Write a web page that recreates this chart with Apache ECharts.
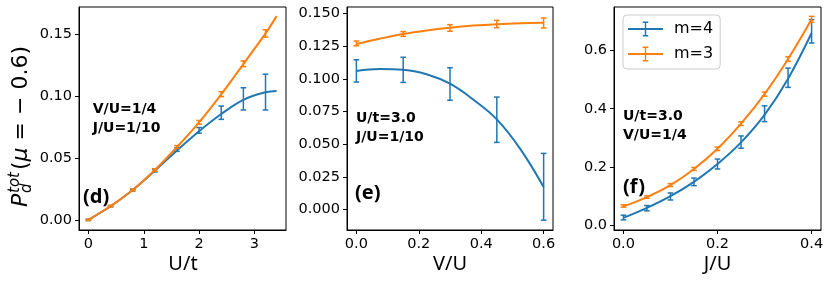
<!DOCTYPE html>
<html>
<head>
<meta charset="utf-8">
<script src="https://cdn.jsdelivr.net/npm/echarts@6/dist/echarts.min.js"></script>
<style>html,body{margin:0;padding:0;background:#fff}#c{width:830px;height:284px}</style>
</head>
<body>
<div id="c"></div>
<script>
// ---- panel (d): vs U/t ----
const dX = [0, 0.4, 0.8, 1.2, 1.6, 2.0, 2.4, 2.8, 3.2];
const dM4 = [0.0, 0.011, 0.024, 0.0398, 0.057, 0.0725, 0.0868, 0.098, 0.1035];
const dM4Err = [0.0005, 0.0005, 0.0007, 0.001, 0.0015, 0.0023, 0.0054, 0.009, 0.0145];
const dM3 = [0.0, 0.0112, 0.0242, 0.0404, 0.059, 0.079, 0.1018, 0.1264, 0.151];
const dM3Err = [0.0005, 0.0006, 0.0008, 0.001, 0.0012, 0.0015, 0.002, 0.0023, 0.003];
const dFitX = [0, 0.4, 0.8, 1.2, 1.6, 2.0, 2.4, 2.8, 3.2, 3.4];
const dFitM4 = [0.0, 0.011, 0.0242, 0.0398, 0.0562, 0.0718, 0.0857, 0.0972, 0.1033, 0.1044];
const dFitM3 = [0.0, 0.0112, 0.0242, 0.0404, 0.059, 0.079, 0.1016, 0.1262, 0.151, 0.165];
const dXTicks = [0, 1, 2, 3];
const dYTicks = [0, 0.05, 0.10, 0.15];

// ---- panel (e): vs V/U ----
const eX = [0, 0.15, 0.3, 0.45, 0.6];
const eM4 = [0.106, 0.1068, 0.096, 0.0687, 0.0175];
const eM4Err = [0.0085, 0.0096, 0.0124, 0.0173, 0.0255];
const eM3 = [0.127, 0.1342, 0.1388, 0.1418, 0.1426];
const eM3Err = [0.0018, 0.0018, 0.0025, 0.0028, 0.0038];
const eFitX = [0, 0.075, 0.15, 0.225, 0.3, 0.375, 0.45, 0.525, 0.6];
const eFitM4 = [0.106, 0.1075, 0.1068, 0.1035, 0.0962, 0.0840, 0.0690, 0.0465, 0.0174];
const eFitM3 = [0.1265, 0.1306, 0.1342, 0.1369, 0.1390, 0.1406, 0.1417, 0.1424, 0.1427];
const eXTicks = [0, 0.2, 0.4, 0.6];
const eYTicks = [0, 0.025, 0.05, 0.075, 0.10, 0.125, 0.15];

// ---- panel (f): vs J/U ----
const fX = [0, 0.05, 0.1, 0.15, 0.2, 0.25, 0.3, 0.35, 0.4];
const fM4 = [0.028, 0.060, 0.100, 0.150, 0.211, 0.286, 0.383, 0.506, 0.665];
const fM4Err = [0.008, 0.009, 0.012, 0.013, 0.017, 0.021, 0.027, 0.033, 0.040];
const fM3 = [0.0675, 0.098, 0.139, 0.194, 0.263, 0.349, 0.450, 0.570, 0.706];
const fM3Err = [0.004, 0.004, 0.005, 0.005, 0.006, 0.006, 0.007, 0.008, 0.010];
const fFitX = [0, 0.05, 0.1, 0.15, 0.2, 0.25, 0.3, 0.35, 0.4];
const fFitM4 = [0.027, 0.061, 0.101, 0.150, 0.211, 0.285, 0.379, 0.503, 0.659];
const fFitM3 = [0.066, 0.098, 0.139, 0.194, 0.263, 0.349, 0.450, 0.570, 0.706];
const fXTicks = [0, 0.2, 0.4];
const fYTicks = [0, 0.2, 0.4, 0.6];

const BLUE = '#1f77b4', ORANGE = '#ff7f0e';
const FONT = 'DejaVu Sans';

function pairs(xs, ys) { return xs.map((x, i) => [x, ys[i]]); }
function triples(xs, ys, es) { return xs.map((x, i) => [x, ys[i], es[i]]); }

function errRender(params, api) {
  const x = api.value(0), y = api.value(1), e = api.value(2);
  const t = api.coord([x, y + e]), b = api.coord([x, y - e]);
  const c = 2.8;
  const style = { stroke: api.visual('color'), lineWidth: 1.5 };
  return { type: 'group', children: [
    { type: 'line', shape: { x1: t[0], y1: t[1], x2: b[0], y2: b[1] }, style },
    { type: 'line', shape: { x1: t[0] - c, y1: t[1], x2: t[0] + c, y2: t[1] }, style },
    { type: 'line', shape: { x1: b[0] - c, y1: b[1], x2: b[0] + c, y2: b[1] }, style }
  ]};
}

const grids = [
  { left: 79, top: 7, width: 207, height: 223 },
  { left: 347, top: 7, width: 206, height: 223 },
  { left: 614, top: 7, width: 207, height: 223 }
].map(g => Object.assign(g, { show: true, borderColor: '#000', borderWidth: 1, backgroundColor: 'transparent' }));

function axis(idx, min, max, ticks, dec) {
  return {
    type: 'value', gridIndex: idx, min, max,
    axisLine: { show: true, onZero: false, lineStyle: { color: '#000', width: 1 } },
    axisTick: { show: true, length: 4, lineStyle: { color: '#000', width: 1 }, customValues: ticks },
    axisLabel: { show: true, margin: 7, color: '#000', fontFamily: FONT, fontSize: 14.5,
      customValues: ticks, formatter: v => Number(v).toFixed(dec) },
    splitLine: { show: false }
  };
}

function panelSeries(idx, xs, m4, m4e, m3, m3e, fx, f4, f3) {
  return [
    { type: 'line', name: 'm=4', xAxisIndex: idx, yAxisIndex: idx, data: pairs(fx, f4), smooth: 0.4,
      showSymbol: false, color: BLUE, lineStyle: { color: BLUE, width: 2 }, silent: true, z: 2 },
    { type: 'custom', name: 'm=4', xAxisIndex: idx, yAxisIndex: idx, data: triples(xs, m4, m4e),
      renderItem: errRender, color: BLUE, encode: { x: 0, y: 1 }, z: 3 },
    { type: 'line', name: 'm=3', xAxisIndex: idx, yAxisIndex: idx, data: pairs(fx, f3), smooth: 0.4,
      showSymbol: false, color: ORANGE, lineStyle: { color: ORANGE, width: 2 }, silent: true, z: 4 },
    { type: 'custom', name: 'm=3', xAxisIndex: idx, yAxisIndex: idx, data: triples(xs, m3, m3e),
      renderItem: errRender, color: ORANGE, encode: { x: 0, y: 1 }, z: 5 }
  ];
}

const ICON = 'path://M0,6.5L35,6.5L35,8.5L0,8.5Z M16.8,0L18.2,0L18.2,15L16.8,15Z M14.7,0L20.3,0L20.3,1.4L14.7,1.4Z M14.7,13.6L20.3,13.6L20.3,15L14.7,15Z';

function txt(x, y, text, font, align) {
  return { type: 'text', x, y, style: { text, font, fill: '#000', align: align || 'left', verticalAlign: 'middle' }, z: 100 };
}
const BOLD = 'bold 14px "DejaVu Sans"';
const LBL = 'bold 20px "Noto Sans"';
const AX = '20px "Noto Sans"';

const option = {
  animation: false,
  textStyle: { fontFamily: FONT },
  grid: grids,
  xAxis: [
    axis(0, -0.17, 3.57, dXTicks, 0),
    axis(1, -0.03, 0.63, eXTicks, 1),
    axis(2, -0.02, 0.42, fXTicks, 1)
  ],
  yAxis: [
    axis(0, -0.0082, 0.1724, dYTicks, 2),
    axis(1, -0.0155, 0.1548, eYTicks, 3),
    axis(2, -0.0147, 0.748, fYTicks, 1)
  ],
  legend: {
    orient: 'vertical', left: 623, top: 15,
    selectedMode: false,
    itemWidth: 35, itemHeight: 15, itemGap: 9,
    padding: [6, 7, 7, 5],
    borderColor: '#cccccc', borderWidth: 1, borderRadius: 4,
    backgroundColor: 'rgba(255,255,255,0.8)',
    textStyle: { fontFamily: FONT, fontSize: 16, color: '#000', padding: [0, 0, 0, 6] },
    data: [
      { name: 'm=4', icon: ICON, itemStyle: { color: BLUE } },
      { name: 'm=3', icon: ICON, itemStyle: { color: ORANGE } }
    ]
  },
  graphic: [
    txt(92.7, 109.5, 'V/U=1/4', BOLD),
    txt(92.7, 128.5, 'J/U=1/10', BOLD),
    txt(356, 118, 'U/t=3.0', BOLD),
    txt(356, 137, 'J/U=1/10', BOLD),
    txt(623, 116.5, 'U/t=3.0', BOLD),
    txt(623, 135.5, 'V/U=1/4', BOLD),
    txt(83, 197, '(d)', LBL),
    txt(355, 193, '(e)', LBL),
    txt(623, 187, '(f)', LBL),
    txt(183, 264, 'U/t', AX, 'center'),
    txt(450, 264, 'V/U', AX, 'center'),
    txt(717.5, 264, 'J/U', AX, 'center'),
    { type: 'group', x: 28, y: 207, rotation: Math.PI / 2, z: 100, children: [
      { type: 'text', x: 0, y: -7, style: { text: 'P', font: 'italic 22px "DejaVu Sans"', fill: '#000', align: 'left', verticalAlign: 'middle' } },
      { type: 'text', x: 14, y: -0.5, style: { text: 'd', font: 'italic 15px "DejaVu Sans"', fill: '#000', align: 'left', verticalAlign: 'middle' } },
      { type: 'text', x: 14, y: -13, style: { text: 'tot', font: 'italic 15px "DejaVu Sans"', fill: '#000', align: 'left', verticalAlign: 'middle' } },
      { type: 'text', x: 37, y: -7, style: { text: '({i|μ} = − 0.6)', font: '22px "DejaVu Sans"', fill: '#000', align: 'left', verticalAlign: 'middle',
          rich: { i: { font: 'italic 22px "DejaVu Sans"', fontStyle: 'italic', fontSize: 22, fontFamily: 'DejaVu Sans' } } } }
    ]}
  ],
  series: [].concat(
    panelSeries(0, dX, dM4, dM4Err, dM3, dM3Err, dFitX, dFitM4, dFitM3),
    panelSeries(1, eX, eM4, eM4Err, eM3, eM3Err, eFitX, eFitM4, eFitM3),
    panelSeries(2, fX, fM4, fM4Err, fM3, fM3Err, fFitX, fFitM4, fFitM3)
  )
};

const chart = echarts.init(document.getElementById('c'), null, { renderer: 'canvas' });
chart.setOption(option);
</script>
</body>
</html>
